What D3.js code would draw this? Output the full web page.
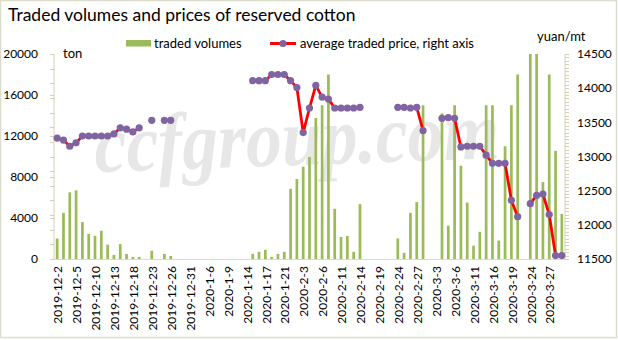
<!DOCTYPE html>
<html><head><meta charset="utf-8">
<script src="https://cdn.jsdelivr.net/npm/d3@7/dist/d3.min.js"></script>
<style>
html,body{margin:0;padding:0;background:#fff;}
svg{display:block;font-family:Lato,"Liberation Sans",sans-serif;}
</style></head>
<body>
<svg id="chart" width="618" height="340"></svg>
<script>
const categories = [
"2019-12-2","2019-12-3","2019-12-4","2019-12-5","2019-12-6","2019-12-9","2019-12-10","2019-12-11","2019-12-12","2019-12-13",
"2019-12-16","2019-12-17","2019-12-18","2019-12-19","2019-12-20","2019-12-23","2019-12-24","2019-12-25","2019-12-26","2019-12-27",
"2019-12-30","2019-12-31",
"2020-1-2","2020-1-3","2020-1-6","2020-1-7","2020-1-8","2020-1-9","2020-1-10","2020-1-13","2020-1-14","2020-1-15",
"2020-1-16","2020-1-17","2020-1-19","2020-1-20","2020-1-21","2020-1-22","2020-1-23",
"2020-2-3","2020-2-4","2020-2-5","2020-2-6","2020-2-7","2020-2-10","2020-2-11","2020-2-12","2020-2-13","2020-2-14",
"2020-2-17","2020-2-18","2020-2-19","2020-2-20","2020-2-21","2020-2-24","2020-2-25","2020-2-26","2020-2-27","2020-2-28",
"2020-3-2","2020-3-3","2020-3-4","2020-3-5","2020-3-6","2020-3-9","2020-3-10","2020-3-11","2020-3-12","2020-3-13",
"2020-3-16","2020-3-17","2020-3-18","2020-3-19","2020-3-20","2020-3-23","2020-3-24","2020-3-25","2020-3-26","2020-3-27",
"2020-3-30","2020-3-31"
];

const tickLabels = [
"2019-12-2","2019-12-5","2019-12-10","2019-12-13","2019-12-18","2019-12-23","2019-12-26","2019-12-31",
"2020-1-6","2020-1-9","2020-1-14","2020-1-17","2020-1-21","2020-2-3","2020-2-6","2020-2-11","2020-2-14",
"2020-2-19","2020-2-24","2020-2-27","2020-3-3","2020-3-6","2020-3-11","2020-3-16","2020-3-19","2020-3-24","2020-3-27"
];

// traded volumes, ton (null = no trade)
const volumes = [
2000,4500,6500,6700,3600,2450,2250,2750,1400,400,
1450,500,200,200,null,800,null,500,300,null,
null,null,
null,null,null,null,null,null,null,null,null,500,
700,900,200,500,700,6850,7800,
9000,9950,13750,15000,18000,4900,2150,2250,700,5350,
null,null,null,null,null,2000,600,4500,5550,15000,
null,null,14200,3250,15000,9100,5500,1300,2650,
15000,15000,1800,11000,15000,18000,null,20000,20000,7500,18000,
10550,4400
];

// average traded price, yuan/mt (right axis)
const prices = [
13270,13240,13150,13200,13300,13300,13300,13300,13300,13330,
13420,13400,13360,13420,null,13530,null,13530,13530,null,
null,null,
null,null,null,null,null,null,null,null,null,14110,
14110,14110,14200,14200,14200,14110,14010,
13350,13710,14040,13870,13840,13710,13710,13710,13710,13720,
null,null,null,null,null,13720,13720,13710,13720,13380,
null,null,13560,13570,13560,13140,13150,13150,13150,
13020,12900,12900,12900,12360,12120,null,12310,12430,12450,12150,
11550,11550
];

const leftTicks = [0,4000,8000,12000,16000,20000];
const rightTicks = [11500,12000,12500,13000,13500,14000,14500];

const svg = d3.select("#chart");
const W = 618, H = 340;
const plot = {left:54, right:565, top:54, bottom:259};

svg.append("rect").attr("x",0.5).attr("y",0.5).attr("width",W-2).attr("height",H-3)
  .attr("fill","#fff").attr("stroke","#dcdccd").attr("stroke-width",1.5);

const x = d3.scaleBand().domain(categories).range([plot.left, plot.right]).padding(0);
const yL = d3.scaleLinear().domain([0,20000]).range([plot.bottom, plot.top]);
const yR = d3.scaleLinear().domain([11500,14500]).range([plot.bottom, plot.top]);
const step = x.step();
const barW = step*0.43;
const cx = c => x(c) + step/2;

// watermark
svg.append("text").attr("x",95).attr("y",165)
  .attr("transform","rotate(-2,300,160)")
  .attr("font-family","'Liberation Serif',serif").attr("font-style","italic").attr("font-weight","bold")
  .attr("font-size",82).attr("fill","#e7e7e7")
  .attr("textLength",405).attr("lengthAdjust","spacingAndGlyphs")
  .text("ccfgroup.com");

// title
svg.append("text").attr("x",8).attr("y",21).attr("font-size",17.5).attr("fill","#000")
  .text("Traded volumes and prices of reserved cotton");

// axes
const axisCol = "#d6d2b8";
const gL = svg.append("g").attr("transform",`translate(${plot.left},0)`);
gL.append("line").attr("x1",0).attr("x2",0).attr("y1",plot.top).attr("y2",plot.bottom).attr("stroke",axisCol);
const minorL = d3.range(15).map(k => 20000*k/14);
gL.selectAll("line.mn").data(minorL).enter().append("line")
  .attr("x1",-4).attr("x2",0).attr("y1",d=>Math.round(yL(d))+0.5).attr("y2",d=>Math.round(yL(d))+0.5).attr("stroke",axisCol);
gL.selectAll("line.mj").data(leftTicks).enter().append("line")
  .attr("x1",-4).attr("x2",0).attr("y1",d=>Math.round(yL(d))+0.5).attr("y2",d=>Math.round(yL(d))+0.5).attr("stroke",axisCol);
svg.append("g").selectAll("text").data(leftTicks).enter().append("text")
  .attr("x",38).attr("y",d=>yL(d)).attr("dy","0.35em").attr("text-anchor","end")
  .attr("font-size",12).attr("fill","#000").text(d=>d);

const gR = svg.append("g").attr("transform",`translate(${plot.right},0)`);
gR.append("line").attr("x1",0).attr("x2",0).attr("y1",plot.top).attr("y2",plot.bottom).attr("stroke",axisCol);
const minorR = d3.range(11500,14501,50);
gR.selectAll("line.mn").data(minorR).enter().append("line")
  .attr("x1",0).attr("x2",4).attr("y1",d=>Math.round(yR(d))+0.5).attr("y2",d=>Math.round(yR(d))+0.5).attr("stroke",axisCol);
svg.append("g").selectAll("text").data(rightTicks).enter().append("text")
  .attr("x",577).attr("y",d=>yR(d)).attr("dy","0.35em").attr("text-anchor","start")
  .attr("font-size",12).attr("fill","#000").text(d=>d);

// bars
svg.append("g").selectAll("rect").data(categories.map((c,i)=>({c,v:volumes[i]})).filter(d=>d.v!=null))
  .enter().append("rect")
  .attr("x",d=>cx(d.c)-barW/2).attr("width",barW)
  .attr("y",d=>yL(d.v)).attr("height",d=>yL(0)-yL(d.v))
  .attr("fill","#9bbb59");

// category axis
const gX = svg.append("g").attr("transform",`translate(0,${plot.bottom})`)
  .call(d3.axisBottom(x).tickValues(tickLabels).tickSize(0));
gX.select(".domain").attr("stroke","#d9d9d9").attr("d",`M${plot.left},0.5H${plot.right}`);
gX.selectAll("text").attr("transform","rotate(-90)").attr("x",-7).attr("y",1).attr("dy","0.35em")
  .attr("text-anchor","end").attr("font-size",12).attr("font-family","Lato,'Liberation Sans',sans-serif").attr("fill","#000");

// price line
const pts = categories.map((c,i)=>({c,v:prices[i]}));
const line = d3.line().defined(d=>d.v!=null).x(d=>cx(d.c)).y(d=>yR(d.v));
svg.append("path").datum(pts).attr("d",line).attr("fill","none").attr("stroke","#ff0000").attr("stroke-width",2.8).attr("stroke-linejoin","round");
svg.append("g").selectAll("circle").data(pts.filter(d=>d.v!=null)).enter().append("circle")
  .attr("cx",d=>cx(d.c)).attr("cy",d=>yR(d.v)).attr("r",3.6).attr("fill","#8064a2");

// unit labels
svg.append("text").attr("x",63).attr("y",58).attr("font-size",13).attr("fill","#000").text("ton");
svg.append("text").attr("x",537).attr("y",41).attr("font-size",13).attr("fill","#000").text("yuan/mt");

// legend
const lg = svg.append("g");
lg.append("rect").attr("x",126).attr("y",40).attr("width",25).attr("height",6.5).attr("fill","#9bbb59");
lg.append("text").attr("x",154).attr("y",47.5).attr("font-size",13).attr("fill","#000").text("traded volumes");
lg.append("line").attr("x1",270).attr("x2",296).attr("y1",43.5).attr("y2",43.5).attr("stroke","#ff0000").attr("stroke-width",3);
lg.append("circle").attr("cx",283).attr("cy",43.5).attr("r",3.6).attr("fill","#8064a2");
lg.append("text").attr("x",300).attr("y",47.5).attr("font-size",13).attr("fill","#000").text("average traded price, right axis");
</script>
</body></html>
